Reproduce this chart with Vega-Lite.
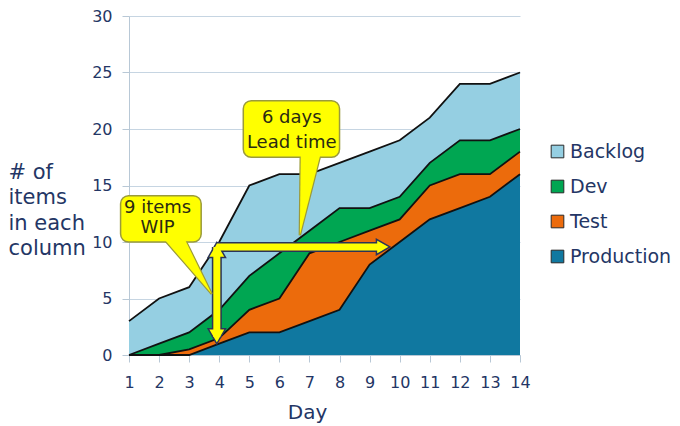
{
  "$schema": "https://vega.github.io/schema/vega-lite/v6.json",
  "autosize": {"type": "none"},
  "width": 391,
  "height": 339,
  "padding": {"left": 129, "top": 16, "right": 160, "bottom": 71},
  "background": "white",
  "config": {
    "font": "DejaVu Sans",
    "view": {"stroke": null},
    "axis": {
      "labelFont": "DejaVu Sans",
      "titleFont": "DejaVu Sans",
      "labelColor": "#243665",
      "titleColor": "#243665",
      "titleFontWeight": "normal",
      "domainColor": "#B8C8D6",
      "tickColor": "#B8C8D6",
      "gridColor": "#C6D5E2"
    },
    "legend": {
      "labelFont": "DejaVu Sans",
      "labelColor": "#243665"
    }
  },
  "datasets": {
    "flow": [
      {"day": 1, "column": "Production", "level": 4, "count": 0},
      {"day": 1, "column": "Test", "level": 3, "count": 0},
      {"day": 1, "column": "Dev", "level": 2, "count": 0},
      {"day": 1, "column": "Backlog", "level": 1, "count": 3},
      {"day": 2, "column": "Production", "level": 4, "count": 0},
      {"day": 2, "column": "Test", "level": 3, "count": 0},
      {"day": 2, "column": "Dev", "level": 2, "count": 1},
      {"day": 2, "column": "Backlog", "level": 1, "count": 4},
      {"day": 3, "column": "Production", "level": 4, "count": 0},
      {"day": 3, "column": "Test", "level": 3, "count": 0.5},
      {"day": 3, "column": "Dev", "level": 2, "count": 1.5},
      {"day": 3, "column": "Backlog", "level": 1, "count": 4},
      {"day": 4, "column": "Production", "level": 4, "count": 1},
      {"day": 4, "column": "Test", "level": 3, "count": 0.5},
      {"day": 4, "column": "Dev", "level": 2, "count": 2.5},
      {"day": 4, "column": "Backlog", "level": 1, "count": 6},
      {"day": 5, "column": "Production", "level": 4, "count": 2},
      {"day": 5, "column": "Test", "level": 3, "count": 2},
      {"day": 5, "column": "Dev", "level": 2, "count": 3},
      {"day": 5, "column": "Backlog", "level": 1, "count": 8},
      {"day": 6, "column": "Production", "level": 4, "count": 2},
      {"day": 6, "column": "Test", "level": 3, "count": 3},
      {"day": 6, "column": "Dev", "level": 2, "count": 4},
      {"day": 6, "column": "Backlog", "level": 1, "count": 7},
      {"day": 7, "column": "Production", "level": 4, "count": 3},
      {"day": 7, "column": "Test", "level": 3, "count": 6},
      {"day": 7, "column": "Dev", "level": 2, "count": 2},
      {"day": 7, "column": "Backlog", "level": 1, "count": 5},
      {"day": 8, "column": "Production", "level": 4, "count": 4},
      {"day": 8, "column": "Test", "level": 3, "count": 6},
      {"day": 8, "column": "Dev", "level": 2, "count": 3},
      {"day": 8, "column": "Backlog", "level": 1, "count": 4},
      {"day": 9, "column": "Production", "level": 4, "count": 8},
      {"day": 9, "column": "Test", "level": 3, "count": 3},
      {"day": 9, "column": "Dev", "level": 2, "count": 2},
      {"day": 9, "column": "Backlog", "level": 1, "count": 5},
      {"day": 10, "column": "Production", "level": 4, "count": 10},
      {"day": 10, "column": "Test", "level": 3, "count": 2},
      {"day": 10, "column": "Dev", "level": 2, "count": 2},
      {"day": 10, "column": "Backlog", "level": 1, "count": 5},
      {"day": 11, "column": "Production", "level": 4, "count": 12},
      {"day": 11, "column": "Test", "level": 3, "count": 3},
      {"day": 11, "column": "Dev", "level": 2, "count": 2},
      {"day": 11, "column": "Backlog", "level": 1, "count": 4},
      {"day": 12, "column": "Production", "level": 4, "count": 13},
      {"day": 12, "column": "Test", "level": 3, "count": 3},
      {"day": 12, "column": "Dev", "level": 2, "count": 3},
      {"day": 12, "column": "Backlog", "level": 1, "count": 5},
      {"day": 13, "column": "Production", "level": 4, "count": 14},
      {"day": 13, "column": "Test", "level": 3, "count": 2},
      {"day": 13, "column": "Dev", "level": 2, "count": 3},
      {"day": 13, "column": "Backlog", "level": 1, "count": 5},
      {"day": 14, "column": "Production", "level": 4, "count": 16},
      {"day": 14, "column": "Test", "level": 3, "count": 2},
      {"day": 14, "column": "Dev", "level": 2, "count": 2},
      {"day": 14, "column": "Backlog", "level": 1, "count": 5}
    ],
    "boxes": [
      {"callout": "WIP", "day": 0.72, "day2": 3.4, "count": 10.0, "count2": 14.1},
      {"callout": "Lead", "day": 4.8, "day2": 8.0, "count": 17.5, "count2": 22.5}
    ],
    "pointers": [
      {"callout": "WIP", "day": 2.087, "count": 10.5, "count2": 10.5},
      {"callout": "WIP", "day": 2.808, "count": 10.5, "count2": 8.29},
      {"callout": "WIP", "day": 3.75, "count": 5.4, "count2": 5.4},
      {"callout": "Lead", "day": 6.68, "count": 10.6, "count2": 10.6},
      {"callout": "Lead", "day": 6.712, "count": 18, "count2": 10.93},
      {"callout": "Lead", "day": 7.388, "count": 18, "count2": 18}
    ],
    "labels": [
      {"day": 1.95, "count": 13.0, "label": "9 items"},
      {"day": 1.95, "count": 11.2, "label": "WIP"},
      {"day": 6.41, "count": 20.95, "label": "6 days"},
      {"day": 6.41, "count": 18.75, "label": "Lead time"}
    ],
    "arrows": [
      {"day": 3.92, "day2": 3.92, "count": 1.6, "count2": 9.56},
      {"day": 3.92, "day2": 9.4, "count": 9.56, "count2": 9.56}
    ],
    "heads": [
      {"head": "up", "day": 3.92, "count": 9.3},
      {"head": "down", "day": 3.92, "count": 1.65},
      {"head": "right", "day": 9.45, "count": 9.56}
    ]
  },
  "encoding": {
    "x": {
      "field": "day", "type": "quantitative",
      "scale": {"domain": [1, 14], "nice": false, "zero": false},
      "axis": {
        "title": "Day",
        "values": [1,2,3,4,5,6,7,8,9,10,11,12,13,14],
        "labelOverlap": false,
        "labelSeparation": 0,
        "labelFlush": false,
        "labelBound": false,
        "grid": false,
        "labelFontSize": 16,
        "tickSize": 7,
        "labelPadding": 12,
        "titleFontSize": 20,
        "titleX": 178,
        "titleY": 47,
        "titleBaseline": "top",
        "titleAnchor": "middle",
        "titleAlign": "center"
      }
    },
    "y": {
      "field": "count", "type": "quantitative",
      "scale": {"domain": [0, 30], "nice": false},
      "axis": {
        "title": ["# of", "items", "in each", "column"],
        "values": [0, 5, 10, 15, 20, 25, 30],
        "labelFontSize": 16,
        "tickSize": 7,
        "labelPadding": 10,
        "titleFontSize": 21,
        "titleAngle": 0,
        "titleAlign": "left",
        "titleBaseline": "top",
        "titleX": -121,
        "titleY": 145,
        "titleLineHeight": 25.5
      }
    }
  },
  "layer": [
    {
      "data": {"name": "flow"},
      "mark": {"type": "area", "opacity": 1},
      "encoding": {
        "color": {
          "field": "column", "type": "nominal",
          "scale": {
            "domain": ["Backlog", "Dev", "Test", "Production"],
            "range": ["#95CFE2", "#00A652", "#EC6B0C", "#1078A0"]
          },
          "legend": {
            "title": null,
            "orient": "none",
            "legendX": 419,
            "legendY": 126,
            "padding": 0,
            "symbolType": "square",
            "symbolSize": 160,
            "symbolStrokeColor": "#2A2A2A",
            "symbolStrokeWidth": 1,
            "symbolOpacity": 1,
            "labelFontSize": 19,
            "labelOffset": 3,
            "rowPadding": 15
          }
        },
        "order": {"field": "level", "type": "quantitative", "sort": "descending"}
      }
    },
    {
      "data": {"name": "flow"},
      "mark": {"type": "line", "color": "#111111", "strokeWidth": 1.8},
      "encoding": {
        "y": {"field": "count", "type": "quantitative", "stack": "zero"},
        "detail": {"field": "level", "type": "ordinal"}
      }
    },
    {
      "data": {"name": "arrows"},
      "mark": {"type": "rule", "color": "#2B3358", "strokeWidth": 10, "strokeCap": "butt"},
      "encoding": {
        "x2": {"field": "day2"},
        "y2": {"field": "count2"}
      }
    },
    {
      "data": {"name": "heads"},
      "transform": [{"filter": "datum.head == 'up'"}],
      "mark": {"type": "point", "shape": "triangle-up", "filled": true, "fill": "#FFFF00", "stroke": "#2B3358", "strokeWidth": 1.5, "size": 300, "opacity": 1}
    },
    {
      "data": {"name": "heads"},
      "transform": [{"filter": "datum.head == 'down'"}],
      "mark": {"type": "point", "shape": "triangle-down", "filled": true, "fill": "#FFFF00", "stroke": "#2B3358", "strokeWidth": 1.5, "size": 300, "opacity": 1}
    },
    {
      "data": {"name": "heads"},
      "transform": [{"filter": "datum.head == 'right'"}],
      "mark": {"type": "point", "shape": "triangle-right", "filled": true, "fill": "#FFFF00", "stroke": "#2B3358", "strokeWidth": 1.5, "size": 240, "opacity": 1}
    },
    {
      "data": {"name": "arrows"},
      "mark": {"type": "rule", "color": "#FFFF00", "strokeWidth": 7, "strokeCap": "butt"},
      "encoding": {
        "x2": {"field": "day2"},
        "y2": {"field": "count2"}
      }
    },
    {
      "data": {"name": "pointers"},
      "mark": {"type": "area", "orient": "vertical", "fill": "#FFFF00", "stroke": "#9A9A3C", "strokeWidth": 2.4, "opacity": 1},
      "encoding": {
        "y": {"field": "count", "type": "quantitative", "stack": null},
        "y2": {"field": "count2"},
        "detail": {"field": "callout", "type": "nominal"}
      }
    },
    {
      "data": {"name": "boxes"},
      "mark": {"type": "rect", "fill": "#FFFF00", "stroke": "#9A9A3C", "strokeWidth": 1.5, "cornerRadius": 8, "opacity": 1},
      "encoding": {
        "x2": {"field": "day2"},
        "y2": {"field": "count2"}
      }
    },
    {
      "data": {"name": "pointers"},
      "mark": {"type": "area", "orient": "vertical", "fill": "#FFFF00", "opacity": 1},
      "encoding": {
        "y": {"field": "count", "type": "quantitative", "stack": null},
        "y2": {"field": "count2"},
        "detail": {"field": "callout", "type": "nominal"}
      }
    },
    {
      "data": {"name": "labels"},
      "mark": {"type": "text", "fontSize": 18, "color": "#2A2A12", "align": "center", "baseline": "middle", "font": "DejaVu Sans"},
      "encoding": {
        "text": {"field": "label", "type": "nominal"}
      }
    }
  ]
}
